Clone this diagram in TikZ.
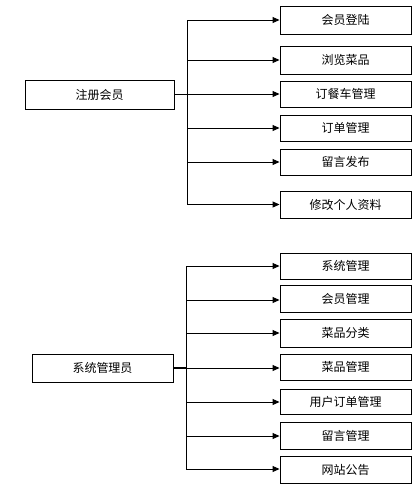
\documentclass[tikz,border=0pt]{standalone}
\usepackage{fontspec}
\newfontfamily\cjk{Noto Sans CJK SC}
\usetikzlibrary{arrows.meta}
\begin{document}
\begin{tikzpicture}[x=1pt,y=-1pt,
  box/.style={draw,line width=0.9pt,minimum height=27pt,inner sep=0pt,font=\cjk\fontsize{12}{14}\selectfont},
  leaf/.style={box,minimum width=131pt},
  conn/.style={line width=0.9pt},
  arr/.style={conn,-{Triangle[length=7pt,width=6pt]}}]
\useasboundingbox (0,0) rectangle (420,491);
% top group
\node[box,minimum width=149pt,minimum height=29pt] (r1) at (99.5,94.5) {注册会员};
\node[leaf,minimum height=28pt] (a1) at (345.5,20) {会员登陆};
\node[leaf,minimum height=28pt] (a2) at (345.5,60) {浏览菜品};
\node[leaf,minimum height=26pt] (a3) at (345.5,94) {订餐车管理};
\node[leaf,minimum height=26pt] (a4) at (345.5,128) {订单管理};
\node[leaf,minimum height=26pt] (a5) at (345.5,162) {留言发布};
\node[leaf,minimum height=27pt] (a6) at (345.5,204.5) {修改个人资料};
\coordinate (t1) at (187,94);
\draw[conn] (r1.east |- t1) -- (t1);
\draw[conn] (187,20) -- (187,204);
\foreach \i in {1,...,6} \draw[arr] (187,0 |- a\i.west) -- (a\i.west);
% bottom group
\node[box,minimum width=141pt,minimum height=28pt] (r2) at (102.5,368) {系统管理员};
\node[leaf,minimum height=26pt] (b1) at (345.5,266) {系统管理};
\node[leaf,minimum height=27pt] (b2) at (345.5,298.5) {会员管理};
\node[leaf,minimum height=28pt] (b3) at (345.5,333) {菜品分类};
\node[leaf,minimum height=26pt] (b4) at (345.5,367) {菜品管理};
\node[leaf,minimum height=25pt] (b5) at (345.5,401.5) {用户订单管理};
\node[leaf,minimum height=27pt] (b6) at (345.5,435.5) {留言管理};
\node[leaf,minimum height=27pt] (b7) at (345.5,469.5) {网站公告};
\coordinate (t2) at (186,368);
\draw[conn,line width=1.8pt] (r2.east |- t2) -- (t2);
\draw[conn] (186,266) -- (186,469);
\draw[arr] (186,266) -- (b1.west |- 0,266);
\draw[arr] (186,300) -- (b2.west |- 0,300);
\draw[arr] (186,333) -- (b3.west |- 0,333);
\draw[arr] (186,368) -- (b4.west |- 0,368);
\draw[arr] (186,402) -- (b5.west |- 0,402);
\draw[arr] (186,436) -- (b6.west |- 0,436);
\draw[arr] (186,469) -- (b7.west |- 0,469);
\end{tikzpicture}
\end{document}
